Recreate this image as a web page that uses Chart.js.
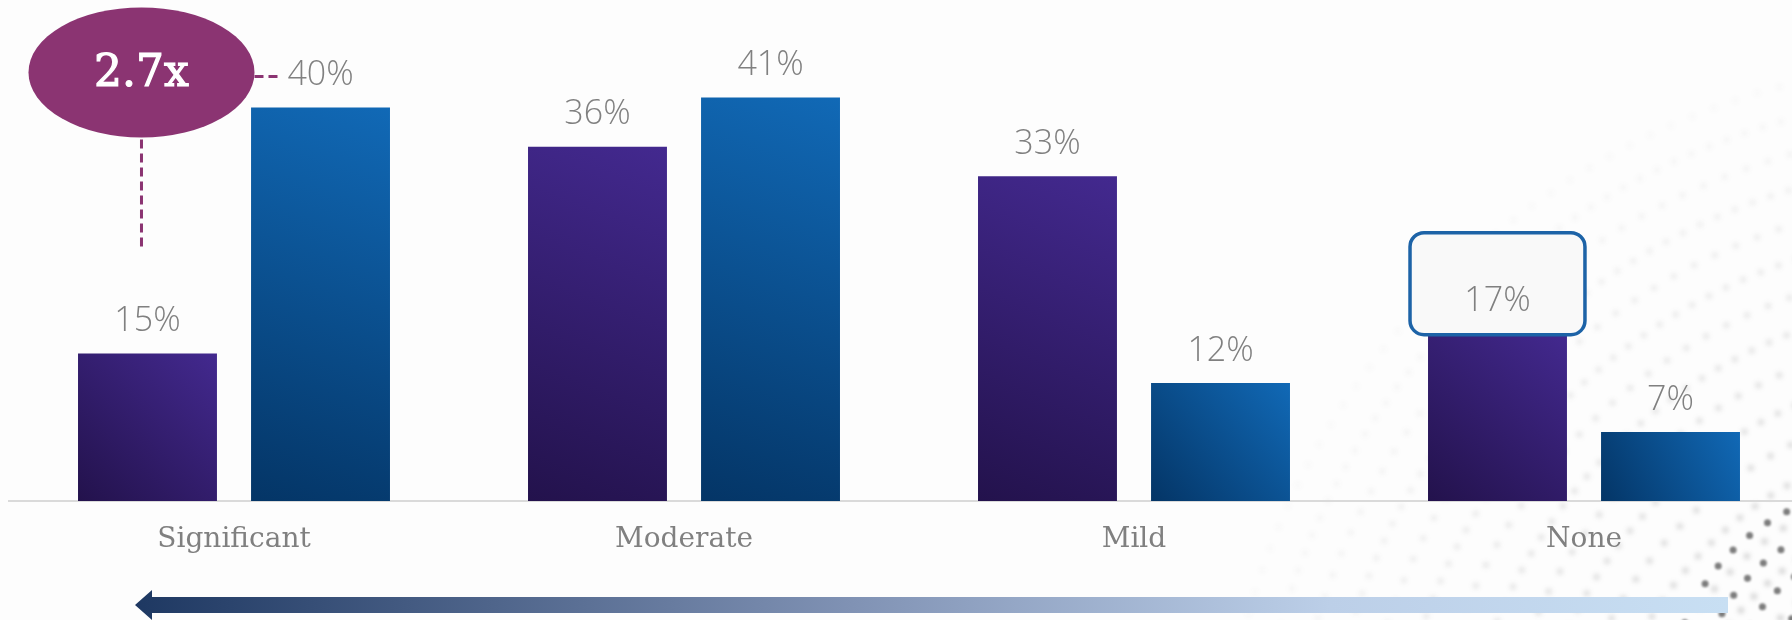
<!DOCTYPE html>
<html lang="en">
<head>
    <meta charset="UTF-8">
    <title>Significant / Moderate / Mild / None</title>
    <script src="https://cdn.jsdelivr.net/npm/chart.js"></script>
    <style>
        html, body { margin: 0; padding: 0; background: #fdfdfd; overflow: hidden; }
        .contenedor { position: relative; width: 1809px; height: 620px; }
    </style>
</head>
<body>
    <div class="contenedor"><canvas id="grafica"></canvas></div>

    <script>
        // Datos de la gráfica
        const categorias = ['Significant', 'Moderate', 'Mild', 'None'];
        const serieA = [15, 36, 33, 17];
        const serieB = [40, 41, 12, 7];
        const ejeMax = 50;

        // Colores de las barras: esquina inferior izquierda -> esquina superior derecha
        const coloresA = ['#23124c', '#43298f'];
        const coloresB = ['#043566', '#1169b6'];
        const colorMorado = '#8b3472';
        const colorGrisTexto = '#808080';

        // Fondo de puntos difuminados en la esquina inferior derecha
        const fondoPuntos = {
            id: 'fondoPuntos',
            beforeDraw(chart) {
                const ctx = chart.ctx;
                ctx.save();
                ctx.filter = 'blur(2.4px)';
                const cx = 1980, cy = 820;
                let fila = 0;
                for (let r = 250; r <= 780; r += 34) {
                    fila++;
                    const paso = (fila % 2 ? 19 : 23) / r;
                    for (let a = Math.PI * 1.02; a <= Math.PI * 1.5; a += paso) {
                        const x = cx + r * Math.cos(a);
                        const y = cy + r * Math.sin(a);
                        if (y > 630 || x > 1815) continue;
                        let alfa = 0.3 - (r - 250) / 1900;
                        if (x < 1250) alfa *= Math.max(0, (x - 1050) / 200);
                        if (alfa <= 0) continue;
                        ctx.fillStyle = 'rgba(70,70,70,' + alfa.toFixed(3) + ')';
                        ctx.beginPath();
                        ctx.arc(x, y, 3, 0, Math.PI * 2);
                        ctx.fill();
                    }
                }
                // puntos más oscuros en la esquina
                ctx.filter = 'blur(1.2px)';
                ctx.fillStyle = 'rgba(40,40,40,0.6)';
                for (let r = 120; r <= 220; r += 30) {
                    for (let a = Math.PI * 1.12; a <= Math.PI * 1.42; a += 22 / r) {
                        const x = 1880 + r * Math.cos(a);
                        const y = 700 + r * Math.sin(a);
                        if (y > 630 || x > 1815) continue;
                        ctx.beginPath();
                        ctx.arc(x, y, 3.5, 0, Math.PI * 2);
                        ctx.fill();
                    }
                }
                ctx.restore();
            }
        };

        // Degradado diagonal propio para cada barra
        const degradadoBarras = {
            id: 'degradadoBarras',
            beforeDatasetsDraw(chart) {
                const ctx = chart.ctx;
                chart.data.datasets.forEach((ds, d) => {
                    const colores = d === 0 ? coloresA : coloresB;
                    chart.getDatasetMeta(d).data.forEach(el => {
                        const izq = el.x - el.width / 2;
                        const der = el.x + el.width / 2;
                        const g = ctx.createLinearGradient(izq, el.base, der, el.y);
                        g.addColorStop(0, colores[0]);
                        g.addColorStop(1, colores[1]);
                        el.options = Object.assign({}, el.options, { backgroundColor: g });
                    });
                });
            }
        };

        // Etiquetas de valor, recuadro, elipse de razón y flecha inferior
        const anotaciones = {
            id: 'anotaciones',
            afterDatasetsDraw(chart) {
                const ctx = chart.ctx;
                const area = chart.chartArea;
                const metaA = chart.getDatasetMeta(0).data;
                const metaB = chart.getDatasetMeta(1).data;

                // Recuadro redondeado sobre la última barra morada
                const ult = metaA[metaA.length - 1];
                ctx.save();
                ctx.beginPath();
                ctx.roundRect(ult.x - ult.width / 2 - 18, ult.y - 101, ult.width + 36, 102, 14);
                ctx.fillStyle = '#f9f9f9';
                ctx.fill();
                ctx.lineWidth = 3.5;
                ctx.strokeStyle = '#1d63a7';
                ctx.stroke();
                ctx.restore();

                // Valores encima de cada barra
                ctx.save();
                ctx.font = '300 34px "Open Sans"';
                ctx.fillStyle = colorGrisTexto;
                ctx.textAlign = 'center';
                ctx.textBaseline = 'middle';
                [[metaA, serieA], [metaB, serieB]].forEach(([meta, valores]) => {
                    meta.forEach((el, i) => {
                        ctx.fillText(valores[i] + '%', el.x, el.y - 32);
                    });
                });
                ctx.restore();

                // Elipse con la razón entre las dos barras de "Significant"
                const b0 = metaB[0];
                const a0 = metaA[0];
                const ex = a0.x - 6, ey = b0.y - 35, rx = 113, ry = 65;
                ctx.save();
                ctx.strokeStyle = colorMorado;
                ctx.lineWidth = 3;
                ctx.setLineDash([9, 5]);
                ctx.beginPath();
                ctx.moveTo(ex, ey + ry + 2);
                ctx.lineTo(ex, ey + ry + 113);
                ctx.moveTo(ex + rx, ey + 4);
                ctx.lineTo(ex + rx + 24, ey + 4);
                ctx.stroke();
                ctx.setLineDash([]);
                ctx.fillStyle = colorMorado;
                ctx.beginPath();
                ctx.ellipse(ex, ey, rx, ry, 0, 0, Math.PI * 2);
                ctx.fill();
                const razon = (serieB[0] / serieA[0]).toFixed(1) + 'x';
                ctx.fillStyle = '#ffffff';
                ctx.strokeStyle = '#ffffff';
                ctx.lineWidth = 1.2;
                ctx.font = '44px "DejaVu Serif"';
                ctx.textAlign = 'center';
                ctx.textBaseline = 'middle';
                ctx.fillText(razon, ex, ey + 2);
                ctx.strokeText(razon, ex, ey + 2);
                ctx.restore();

                // Flecha inferior con degradado hacia la izquierda
                const x0 = area.left + 126, x1 = area.right - 81, yc = 605;
                ctx.save();
                const gf = ctx.createLinearGradient(x0, 0, x1, 0);
                gf.addColorStop(0, '#1e3862');
                gf.addColorStop(0.45, '#8092b4');
                gf.addColorStop(0.75, '#bccfe8');
                gf.addColorStop(1, '#c8dff3');
                ctx.fillStyle = gf;
                ctx.beginPath();
                ctx.moveTo(x0, yc);
                ctx.lineTo(x0 + 17, yc - 15);
                ctx.lineTo(x0 + 17, yc - 8);
                ctx.lineTo(x1, yc - 8);
                ctx.lineTo(x1, yc + 8);
                ctx.lineTo(x0 + 17, yc + 8);
                ctx.lineTo(x0 + 17, yc + 15);
                ctx.closePath();
                ctx.fill();
                ctx.restore();
            }
        };

        const ctx = document.getElementById('grafica').getContext('2d');
        new Chart(ctx, {
            type: 'bar',
            data: {
                labels: categorias,
                datasets: [
                    { label: 'A', data: serieA, backgroundColor: coloresA[1] },
                    { label: 'B', data: serieB, backgroundColor: coloresB[1] }
                ]
            },
            options: {
                responsive: true,
                maintainAspectRatio: false,
                animation: false,
                events: [],
                categoryPercentage: 0.769,
                barPercentage: 0.803,
                layout: { padding: { left: 9, top: 9, right: 0, bottom: 0 } },
                plugins: {
                    legend: { display: false },
                    tooltip: { enabled: false }
                },
                scales: {
                    x: {
                        grid: { display: false, drawTicks: false },
                        border: { display: true, color: '#dadada', width: 2 },
                        ticks: {
                            color: colorGrisTexto,
                            padding: 22,
                            font: { family: 'DejaVu Serif', size: 28 }
                        },
                        afterFit(scale) { scale.height = 119; }
                    },
                    y: {
                        display: false,
                        min: 0,
                        max: ejeMax
                    }
                }
            },
            plugins: [fondoPuntos, degradadoBarras, anotaciones]
        });
    </script>
</body>
</html>
